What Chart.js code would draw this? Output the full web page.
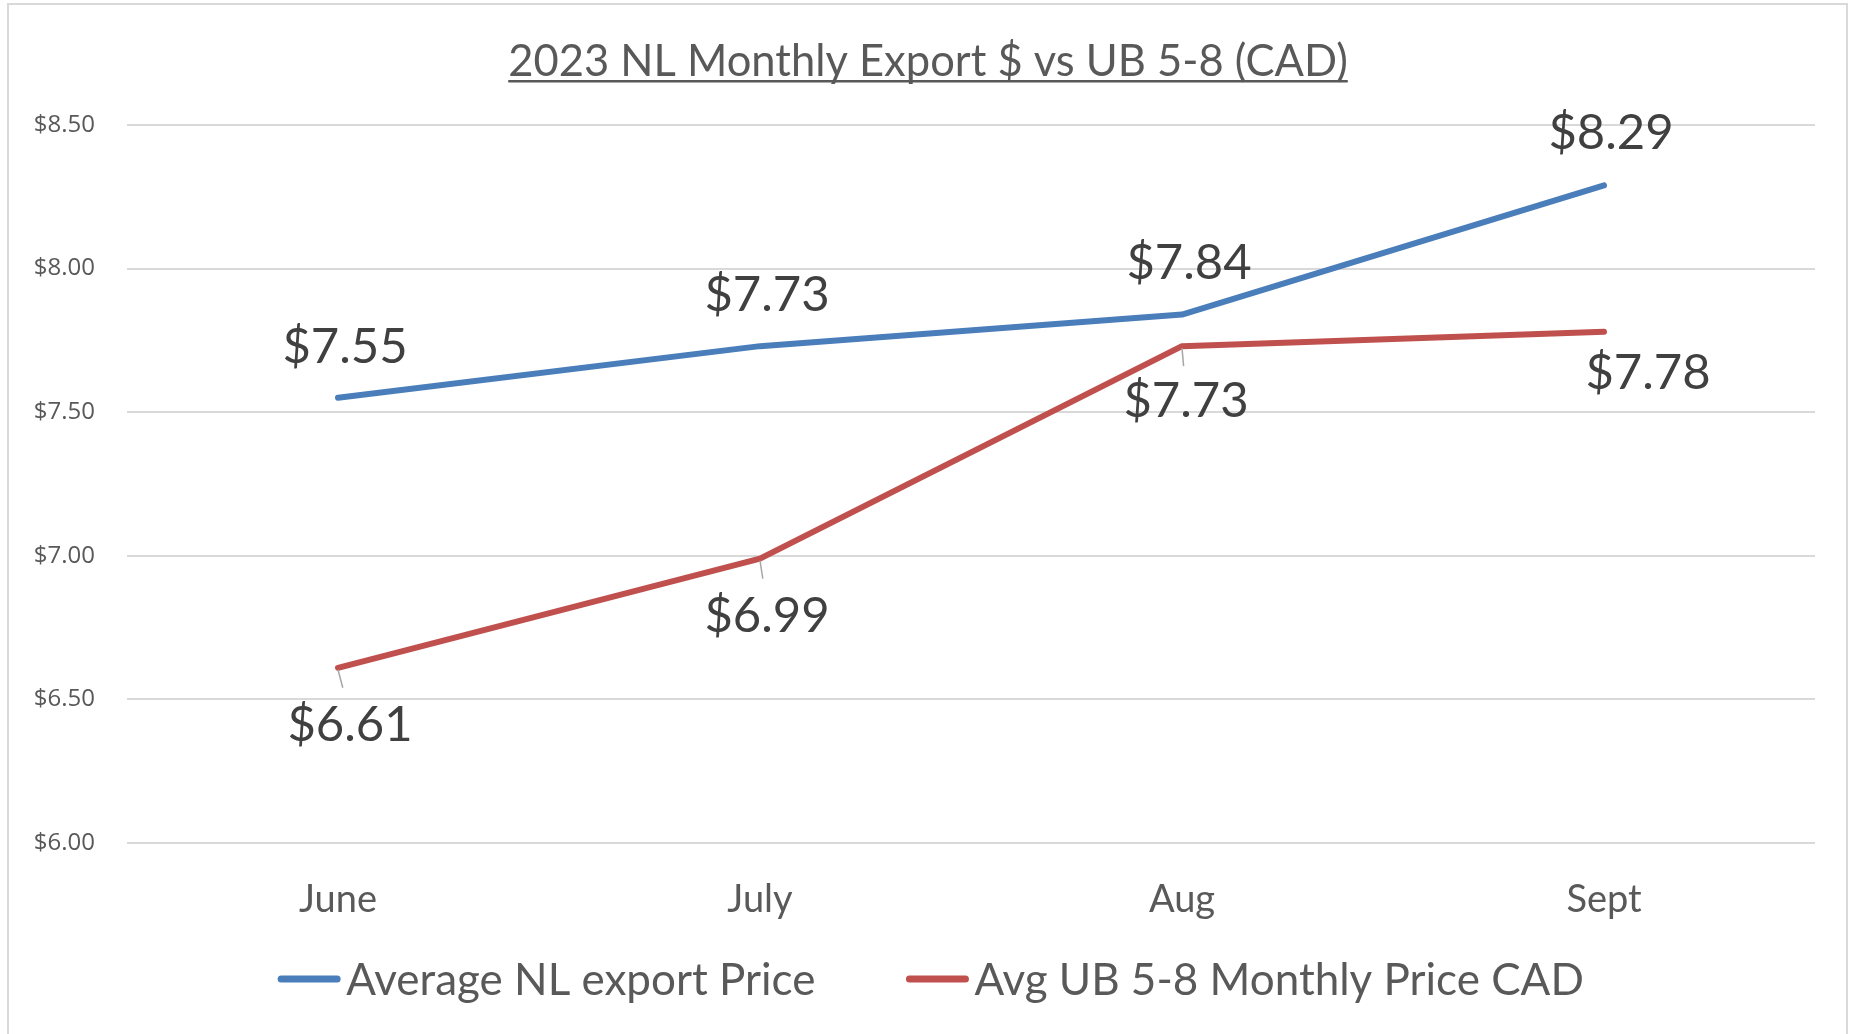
<!DOCTYPE html>
<html>
<head>
<meta charset="utf-8">
<title>2023 NL Monthly Export $ vs UB 5-8 (CAD)</title>
<script src="https://cdn.jsdelivr.net/npm/chart.js@4.4.0/dist/chart.umd.min.js"></script>
<style>
  html, body { margin: 0; padding: 0; background: #fff; overflow: hidden; }
  #wrap { width: 1851px; height: 1034px; position: relative; }
</style>
</head>
<body>
<div id="wrap"><canvas id="content" width="1851" height="1034"></canvas></div>
<script>
// chart data
const chartTitle = "2023 NL Monthly Export $ vs UB 5-8 (CAD)";
const months = ["June", "July", "Aug", "Sept"];
const seriesNames = ["Average NL export Price", "Avg UB 5-8 Monthly Price CAD"];
const nlExport = [7.55, 7.73, 7.84, 8.29];
const ubPrice = [6.61, 6.99, 7.73, 7.78];
const yMin = 6.0;
const yMax = 8.5;
const yStep = 0.5;

const blue = "#4a7ebb";
const red = "#c0504d";
const textGrey = "#595959";
const labelGrey = "#404040";

function money(v) {
  return "$" + Number(v).toFixed(2);
}

// where each value label sits relative to its point [dx, dy], and if it gets a leader line
const labelNudge = [
  [[7, -51], [7, -51], [7, -51], [7, -52]],
  [[12, 57], [7, 58], [4, 55], [44, 41]]
];
const leaderLines = [
  [false, false, false, false],
  [true, true, true, false]
];

const excelBits = {
  id: "excelBits",
  beforeDraw(chart) {
    const ctx = chart.ctx;
    ctx.save();
    ctx.fillStyle = "#fff";
    ctx.fillRect(0, 0, chart.width, chart.height);
    // chart frame
    ctx.strokeStyle = "#d9d9d9";
    ctx.lineWidth = 2;
    ctx.strokeRect(8, 4, 1839, 1100);
    ctx.restore();
  },
  afterDatasetsDraw(chart) {
    const ctx = chart.ctx;
    ctx.save();
    chart.data.datasets.forEach((ds, i) => {
      const meta = chart.getDatasetMeta(i);
      meta.data.forEach((pt, j) => {
        const nudge = labelNudge[i][j];
        if (leaderLines[i][j]) {
          ctx.strokeStyle = "#a6a6a6";
          ctx.lineWidth = 1.5;
          ctx.beginPath();
          ctx.moveTo(pt.x, pt.y + 2);
          ctx.lineTo(pt.x + nudge[0] * 0.4, pt.y + 20);
          ctx.stroke();
        }
        ctx.fillStyle = labelGrey;
        ctx.font = "49px Lato";
        ctx.textAlign = "center";
        ctx.textBaseline = "middle";
        ctx.fillText(money(ds.data[j]), pt.x + nudge[0], pt.y + nudge[1]);
      });
    });
    ctx.restore();
  },
  afterDraw(chart) {
    const ctx = chart.ctx;
    ctx.save();
    // title with underline
    const cx = 928;
    ctx.font = "43.5px Lato";
    ctx.fillStyle = textGrey;
    ctx.textAlign = "center";
    ctx.textBaseline = "alphabetic";
    ctx.fillText(chartTitle, cx, 76);
    const tw = ctx.measureText(chartTitle).width;
    ctx.fillRect(cx - tw / 2, 80, tw, 2.5);

    // legend
    const lineLen = 62, gap = 6, itemGap = 91;
    ctx.font = "44px Lato";
    const colors = [blue, red];
    const widths = seriesNames.map(s => ctx.measureText(s).width);
    let total = 0;
    widths.forEach((w, i) => { total += lineLen + gap + w + (i ? itemGap : 0); });
    let x = 931 - total / 2;
    const ly = 979;
    seriesNames.forEach((name, i) => {
      if (i) x += itemGap;
      ctx.strokeStyle = colors[i];
      ctx.lineWidth = 7;
      ctx.lineCap = "round";
      ctx.beginPath();
      ctx.moveTo(x + 3, ly);
      ctx.lineTo(x + lineLen - 3, ly);
      ctx.stroke();
      x += lineLen + gap;
      ctx.fillStyle = textGrey;
      ctx.textAlign = "left";
      ctx.textBaseline = "middle";
      ctx.fillText(name, x, ly + 2);
      x += widths[i];
    });
    ctx.restore();
  }
};

new Chart("content", {
  type: "line",
  data: {
    labels: months,
    datasets: [
      {
        label: seriesNames[0],
        data: nlExport,
        borderColor: blue,
        backgroundColor: blue,
        borderWidth: 6,
        borderCapStyle: "round",
        borderJoinStyle: "round",
        pointRadius: 0,
        tension: 0,
        clip: false
      },
      {
        label: seriesNames[1],
        data: ubPrice,
        borderColor: red,
        backgroundColor: red,
        borderWidth: 6,
        borderCapStyle: "round",
        borderJoinStyle: "round",
        pointRadius: 0,
        tension: 0,
        clip: false
      }
    ]
  },
  options: {
    responsive: false,
    animation: false,
    devicePixelRatio: 1,
    layout: { padding: { top: 125, left: 0, right: 36, bottom: 91 } },
    plugins: {
      legend: { display: false },
      title: { display: false },
      tooltip: { enabled: false }
    },
    scales: {
      x: {
        offset: true,
        grid: { display: false, drawTicks: false },
        border: { display: false },
        ticks: {
          color: textGrey,
          font: { family: "Lato", size: 38 },
          padding: 34,
          maxRotation: 0
        },
        afterFit(scale) { scale.height = 100; }
      },
      y: {
        min: yMin,
        max: yMax,
        grid: { color: "#d9d9d9", lineWidth: 2, drawTicks: false },
        border: { display: false },
        ticks: {
          stepSize: yStep,
          color: textGrey,
          font: { family: "Open Sans", size: 24 },
          padding: 32,
          callback: v => money(v)
        },
        afterFit(scale) { scale.width = 127; }
      }
    }
  },
  plugins: [excelBits]
});
</script>
</body>
</html>
